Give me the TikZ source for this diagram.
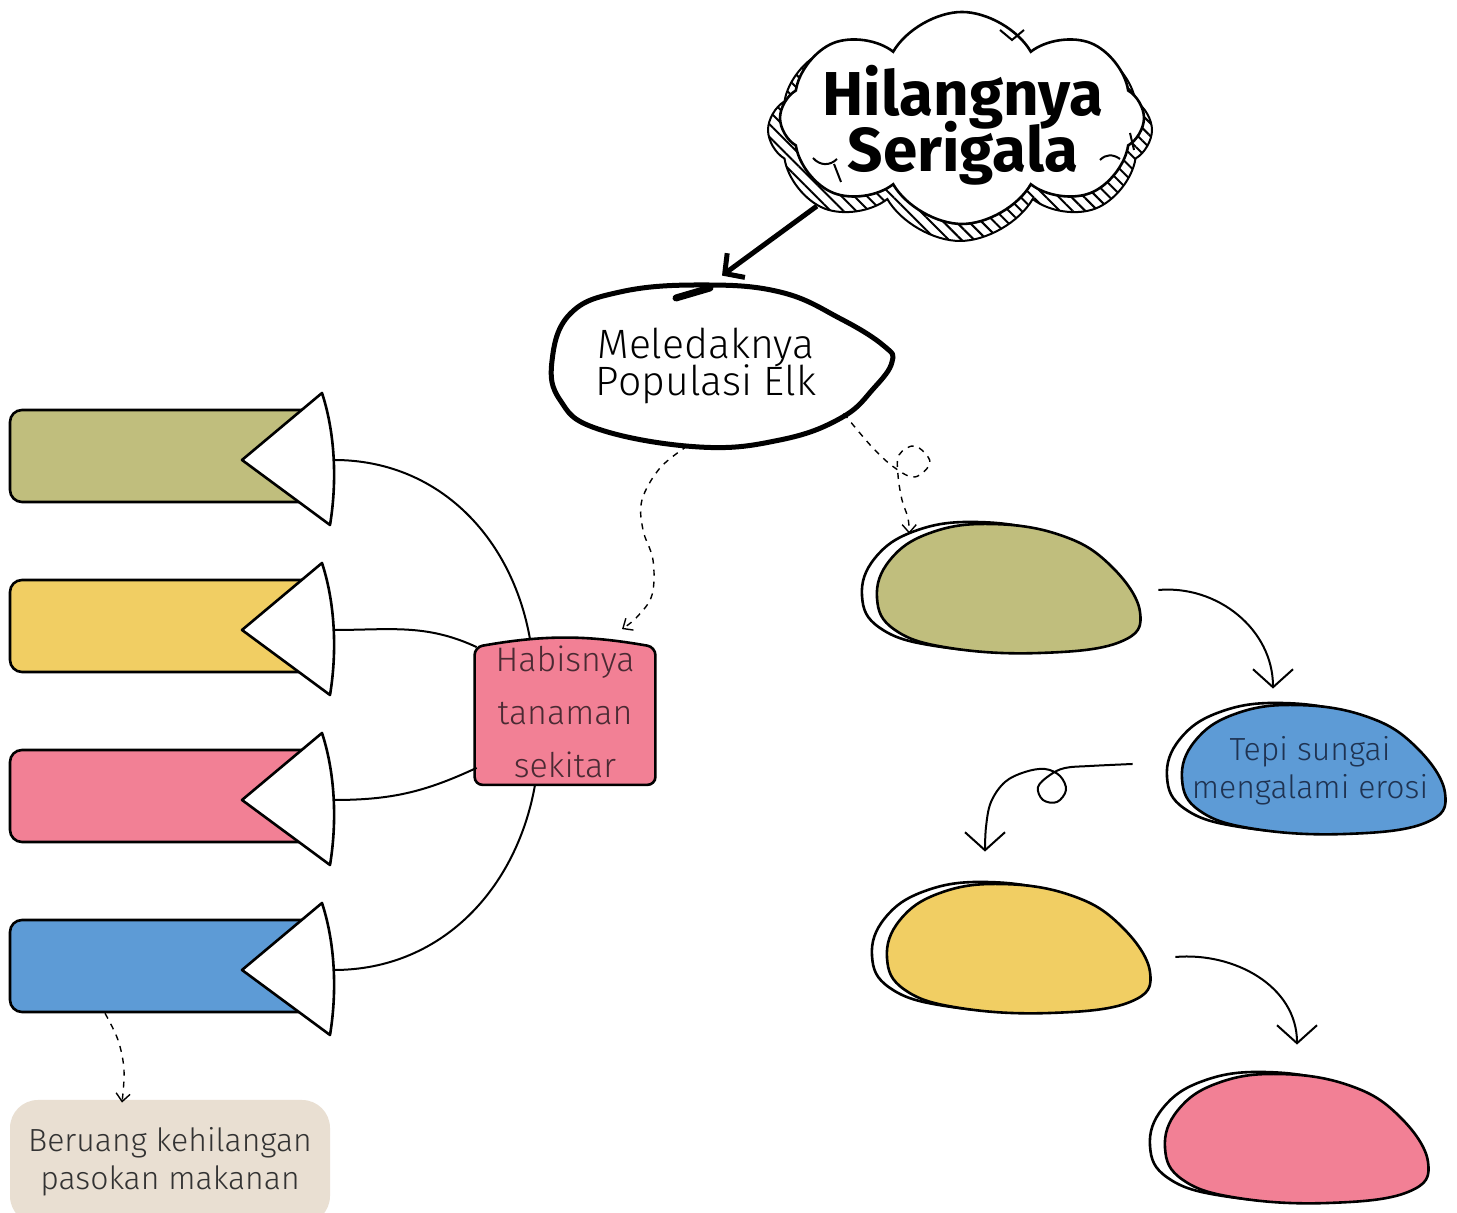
\documentclass[tikz,border=0pt]{standalone}
\usepackage{fontspec}
\setmainfont{Fira Sans Light}
\newfontfamily\headfont{Fira Sans Bold}
\usetikzlibrary{calc}
\usetikzlibrary{arrows.meta}
\usetikzlibrary{patterns,patterns.meta}
\usetikzlibrary{shapes.symbols,shapes.geometric}
\usetikzlibrary{backgrounds}
\usepackage{xcolor}
\definecolor{grass}{HTML}{C0BE7D}
\definecolor{sun}{HTML}{F1CE63}
\definecolor{rose}{HTML}{F28095}
\definecolor{river}{HTML}{5D9BD6}
\definecolor{sand}{HTML}{E9DFD2}
\definecolor{habtext}{HTML}{4A2A33}
\definecolor{rivertext}{HTML}{1F3352}
\definecolor{beartext}{HTML}{333333}
\newcommand{\tightlines}{\lineskiplimit=-20pt\relax}

\newcommand{\blobat}[2]{%
 \begin{scope}[on background layer]
 \draw[line width=1.3pt, shift={(#1)}, xshift=-7.5pt, yshift=1pt] plot[smooth cycle, tension=.7] coordinates {(-128,-8) (-115,30) (-75,57) (-15,66) (55,55) (105,25) (135,-22) (115,-52) (35,-63) (-55,-58) (-110,-40)};
 \draw[line width=1.3pt, fill=#2, shift={(#1)}] plot[smooth cycle, tension=.7] coordinates {(-128,-8) (-115,30) (-75,57) (-15,66) (55,55) (105,25) (135,-22) (115,-52) (35,-63) (-55,-58) (-110,-40)};
 \end{scope}}

\begin{document}
\begin{tikzpicture}[x=.5pt, y=.5pt,
 band/.style={draw, line width=1.3pt, rounded corners=6pt, minimum width=154pt, minimum height=46pt, inner sep=0pt},
 wedge/.style={draw, fill=white, line width=1.3pt, line join=round},
 spot/.style={ellipse, minimum width=135pt, minimum height=65pt, inner sep=0pt},
 link/.style={line width=1pt},
 flow/.style={line width=1pt, -{Straight Barb[length=9pt,width=20pt]}},
 trail/.style={dashed, line width=.7pt, -{Straight Barb[length=4pt,width=7pt]}},
 body/.style={align=center, font=\fontsize{16}{19}\selectfont\tightlines}]

\begin{scope}[on background layer]
\fill[white] (0,0) rectangle (1457,1213);
\end{scope}
\useasboundingbox (0,0) rectangle (1457,1213);

\node[cloud, cloud puffs=8, cloud puff arc=120, cloud ignores aspect, minimum width=192pt, minimum height=111pt, draw, line width=1pt, pattern={Lines[angle=-45,distance=4.5pt,line width=1pt]}] (wolfshade) at (960,1083) {};
\node[cloud, cloud puffs=8, cloud puff arc=120, cloud ignores aspect, minimum width=182pt, minimum height=106pt, draw, fill=white, line width=1.3pt] (wolf) at (962,1095) {};
\node[font=\headfont\fontsize{31}{28}\selectfont\tightlines, align=center] (wolftext) at (963,1088) {Hilangnya\\Serigala};
\draw[line width=1pt] (1000,1183) -- (1012,1173) -- (1024,1183);
\draw[line width=1pt] (813,1055) .. controls (820,1047) and (830,1047) .. (837,1054);
\draw[line width=1pt] (834,1049) -- (841,1031);
\draw[line width=1pt] (1100,1053) .. controls (1106,1059) and (1113,1059) .. (1120,1054);
\draw[line width=1pt] (1130,1080) -- (1134,1063);

\node[ellipse, minimum width=170pt, minimum height=80pt, inner sep=0pt, align=center, font=\fontsize{20.5}{18.5}\selectfont\tightlines] (elk) at (706,847) {Meledaknya\\Populasi Elk};
\draw[line width=2.5pt, shift={(elk)}] plot[smooth cycle, tension=.7] coordinates {(-154,5) (-136,52) (-86,74) (-6,81) (74,74) (135,47) (178,20) (186,4) (168,-22) (135,-52) (74,-74) (-7,-81) (-108,-63) (-146,-34)};
\draw[line width=3.5pt, line cap=round, shift={(elk)}] (-30,68) -- (4,78);
\draw[line width=2.5pt, -{Straight Barb[length=7pt,width=15pt]}] (wolfshade.208) -- ([shift={(16,10)}]elk.north);

\node[align=center, font=\fontsize{17}{26.5}\selectfont, text=habtext, minimum width=90pt, minimum height=72.5pt, inner sep=0pt] (habis) at (565,501) {Habisnya\\tanaman\\sekitar};
\begin{scope}[on background layer]
\draw[line width=1.3pt, fill=rose, rounded corners=4pt] (habis.south west) -- ([yshift=-4pt]habis.north west) to[bend left=10] ([yshift=-4pt]habis.north east) -- (habis.south east) -- cycle;
\end{scope}

\foreach \col/\yy [count=\i] in {grass/456, sun/626, rose/796, river/966} {
 \node[band, fill=\col] (band\i) at (164,1213-\yy) {};
 \draw[wedge] (242,1209-\yy) -- (322,1276-\yy) .. controls (337,1230-\yy) and (336,1180-\yy) .. (330,1144-\yy) -- cycle;
 \coordinate (wedge\i) at (334,1209-\yy);
}
\draw[link] (wedge1) to[out=0,in=100] ([xshift=-17.5pt]habis.north);
\draw[link] (wedge2) to[out=0,in=155] ([shift={(2,-8)}]habis.north west);
\draw[link] (wedge3) to[out=0,in=205] ([shift={(2,17)}]habis.south west);
\draw[link] (wedge4) to[out=0,in=-100] ([xshift=-15pt]habis.south);

\node[spot] (grassblob) at (1005,623) {};
\node[spot] (riverblob) at (1310,442) {};
\node[spot] (sunblob) at (1015,263) {};
\node[spot] (roseblob) at (1293,73) {};
\blobat{grassblob}{grass}
\blobat{riverblob}{river}
\blobat{sunblob}{sun}
\blobat{roseblob}{rose}
\node[body, text=rivertext] (rivertxt) at (riverblob) {Tepi sungai\\mengalami erosi};

\node[body, fill=sand, rounded corners=14pt, minimum width=160pt, minimum height=62pt, text=beartext] (bear) at (170,51) {Beruang kehilangan\\pasokan makanan};

\draw[flow] ([xshift=9pt]grassblob.east) to[out=5,in=90] ([shift={(-37,17)}]riverblob.north);
\draw[flow] plot[smooth, tension=.6] coordinates {([shift={(-42,7)}]riverblob.west) (1090,447) (1065,445) (1050,438) (1038,426) (1043,413) (1057,411) (1066,423) (1060,437) (1045,444) (1025,441) (1005,431) (991,411) (986,386) ([shift={(-30,33)}]sunblob.north)};
\draw[flow] ([shift={(25,-7)}]sunblob.east) to[out=5,in=90] ([shift={(4,30)}]roseblob.north);

\draw[trail] plot[smooth, tension=.6] coordinates {(elk.-103) (660,745) (642,713) (643,683) (653,653) (652,618) (637,596) ([shift={(57,10)}]habis.north)};
\draw[trail] plot[smooth, tension=.6] coordinates {(elk.-19) (872,766) (895,745) (915,736) (930,751) (915,767) (899,758) (898,738) (902,713) (908,695) ([yshift=5pt]grassblob.north west)};
\draw[trail] plot[smooth, tension=.6] coordinates {([xshift=-29.5pt]band4.south) (118,173) (124,143) ([shift={(-48,-3)}]bear.north)};
\end{tikzpicture}
\end{document}
